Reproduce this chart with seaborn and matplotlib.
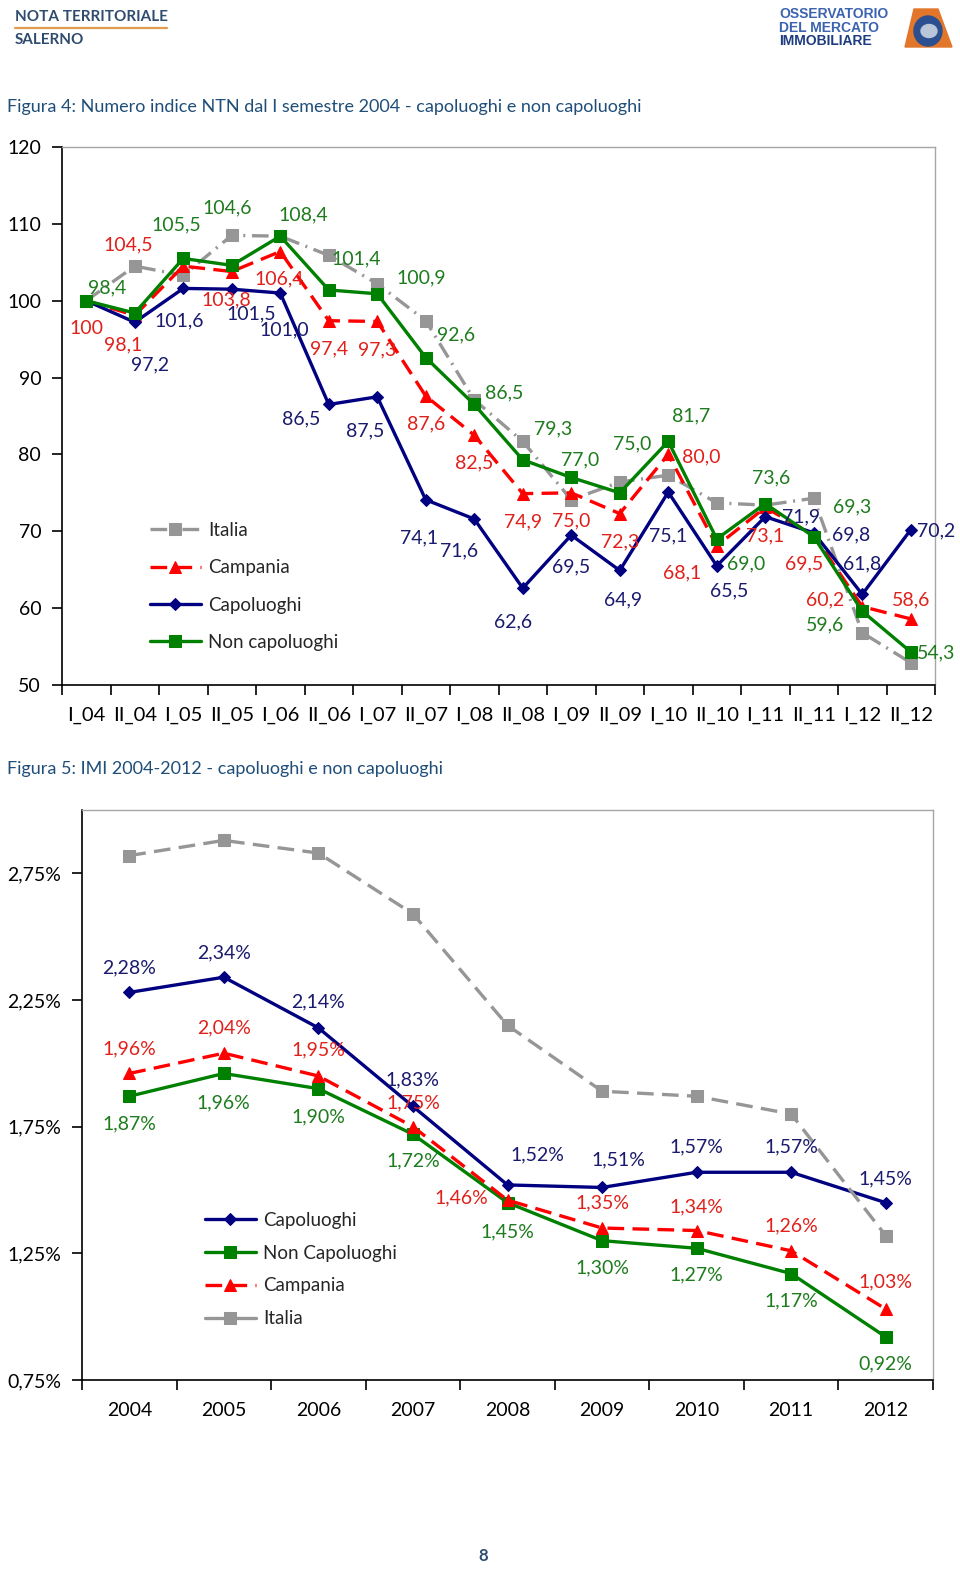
import matplotlib
matplotlib.use("Agg")
import matplotlib.pyplot as plt
import seaborn as sns
import pandas as pd
from matplotlib.lines import Line2D
from matplotlib.patches import Polygon, Ellipse

# ---------------- data ----------------
semesters = ["I_04", "II_04", "I_05", "II_05", "I_06", "II_06", "I_07", "II_07", "I_08",
             "II_08", "I_09", "II_09", "I_10", "II_10", "I_11", "II_11", "I_12", "II_12"]
ntn_italia = [100, 104.5, 103.3, 108.5, 108.4, 105.9, 102.2, 97.4, 87.1,
              81.7, 74.1, 76.4, 77.3, 73.7, 73.4, 74.3, 56.8, 52.9]
ntn_campania = [100, 98.1, 104.5, 103.8, 106.4, 97.4, 97.3, 87.6, 82.5,
                74.9, 75.0, 72.3, 80.0, 68.1, 73.1, 69.5, 60.2, 58.6]
ntn_capoluoghi = [100, 97.2, 101.6, 101.5, 101.0, 86.5, 87.5, 74.1, 71.6,
                  62.6, 69.5, 64.9, 75.1, 65.5, 71.9, 69.8, 61.8, 70.2]
ntn_non_capoluoghi = [100, 98.4, 105.5, 104.6, 108.4, 101.4, 100.9, 92.6, 86.5,
                      79.3, 77.0, 75.0, 81.7, 69.0, 73.6, 69.3, 59.6, 54.3]

years = ["2004", "2005", "2006", "2007", "2008", "2009", "2010", "2011", "2012"]
imi_capoluoghi = [2.28, 2.34, 2.14, 1.83, 1.52, 1.51, 1.57, 1.57, 1.45]
imi_non_capoluoghi = [1.87, 1.96, 1.90, 1.72, 1.45, 1.30, 1.27, 1.17, 0.92]
imi_campania = [1.96, 2.04, 1.95, 1.75, 1.46, 1.35, 1.34, 1.26, 1.03]
imi_italia = [2.82, 2.88, 2.83, 2.59, 2.15, 1.89, 1.87, 1.80, 1.32]

# ---------------- styles / label offsets (pixels) ----------------
NAVY = "#000080"
RED = "#FF0000"
GREEN = "#008000"
GREY = "#969696"
TXT_NAVY = "#1A1A6E"
TXT_RED = "#E0211B"
TXT_GREEN = "#1E7B1E"
TITLE_C = "#1F4E79"

off_green1 = [None, (-28, 25), (-7, 34), (-5, 57), (23, 21), (27, 31), (44, 16), (30, 23), (30, 12),
              (30, 31), (9, 18), (12, 49), (23, 25), (29, -25), (6, 26), (38, 30), (-37, -14), (25, -1)]
off_red1 = [(0, -28), (-12, -30), (-55, 21), (-5, -28), (-1, -27), (0, -28), (0, -28), (0, -28), (0, -28),
            (0, -28), (0, -28), (0, -28), (33, -2), (-35, -27), (0, -28), (-10, -29), (-37, 7), (0, 19)]
off_navy1 = [None, (15, -43), (-4, -32), (20, -25), (4, -37), (-28, -14), (-12, -34), (-7, -38), (-15, -32),
             (-10, -34), (0, -32), (3, -29), (0, -44), (12, -25), (36, 0), (37, -2), (0, 30), (25, -1)]

off_navy2 = [(0, 25), (0, 24), (0, 26), (0, 27), (30, 30), (16, 28), (0, 25), (0, 25), (0, 24)]
off_red2 = [(0, 25), (0, 25), (0, 26), (0, 24), (-46, 2), (0, 25), (0, 24), (0, 25), (0, 27)]
off_green2 = [(0, -28), (0, -29), (0, -28), (0, -27), (0, -29), (0, -27), (0, -27), (0, -27), (0, -27)]

sns.set_theme(style="white")
plt.rcParams["font.family"] = ["Lato", "DejaVu Sans"]

W, H = 960, 1569
fig = plt.figure(figsize=(W / 100, H / 100), dpi=100)


def fx(px):
    return px / W


def fy(py):
    return 1 - py / H


def fmt1(v):
    if v == 100:
        return "100"
    return f"{v:.1f}".replace(".", ",")


def fmt_pct(v):
    return f"{v:.2f}%".replace(".", ",")


def style_axes(ax, n):
    for s in ["left", "bottom"]:
        ax.spines[s].set_color("black")
        ax.spines[s].set_linewidth(1.2)
    for s in ["top", "right"]:
        ax.spines[s].set_color("#A6A6A6")
        ax.spines[s].set_linewidth(1.0)
    ax.set_xlim(-0.5, n - 0.5)
    ax.set_xticks(range(n))
    ax.set_xticks([i - 0.5 for i in range(n + 1)], minor=True)
    ax.tick_params(axis="x", which="major", length=0, pad=16, labelsize=14.5, colors="black")
    ax.tick_params(axis="x", which="minor", length=7, width=1.2, direction="out", color="black", bottom=True)
    ax.tick_params(axis="y", which="major", length=7, width=1.2, direction="out", color="black",
                   left=True, labelsize=14, pad=8, labelcolor="black")
    ax.grid(False)
    ax.set_xlabel("")
    ax.set_ylabel("")


# ---------------- header ----------------
fig.text(fx(15), fy(17), "NOTA TERRITORIALE", fontsize=11, fontweight="bold", color="#2F4B6E",
         va="center", ha="left", family=["Lato", "DejaVu Sans"])
fig.add_artist(Line2D([fx(15), fx(167)], [fy(28), fy(28)], color="#E39B4F", lw=1.6))
fig.text(fx(15), fy(40), "SALERNO", fontsize=11, fontweight="bold", color="#2F4B6E",
         va="center", ha="left", family=["Lato", "DejaVu Sans"])
for yy, t, wgt, c in [(14, "OSSERVATORIO", "bold", "#3B63B0"), (28, "DEL MERCATO", "bold", "#3B63B0"),
                      (41, "IMMOBILIARE", "bold", "#1E3C80")]:
    fig.text(fx(779), fy(yy), t, fontsize=10, fontweight=wgt, color=c, va="center", ha="left",
             family=["Liberation Sans Narrow", "Liberation Sans", "DejaVu Sans"])
fig.add_artist(Polygon([(fx(914), fy(9)), (fx(938), fy(9)), (fx(952), fy(47)), (fx(905), fy(47))],
                       closed=True, color="#E2762A", transform=fig.transFigure))
fig.add_artist(Ellipse((fx(928), fy(31)), 28 / W, 30 / H, color="#2C4F8F", transform=fig.transFigure))
fig.add_artist(Ellipse((fx(929), fy(31)), 16 / W, 13 / H, color="#B9C6DA", transform=fig.transFigure))

# ---------------- figure 4 ----------------
fig.text(fx(7), fy(107), "Figura 4: Numero indice NTN dal I semestre 2004 - capoluoghi e non capoluoghi",
         fontsize=13, color=TITLE_C, va="center", ha="left")

ax1 = fig.add_axes([fx(62), fy(685), (935 - 62) / W, (685 - 147) / H])
series1 = [
    ("Italia", ntn_italia, GREY, "s", 8, (0, (5, 2, 0.6, 2)), None, None),
    ("Campania", ntn_campania, RED, "^", 9, (0, (5, 2.5)), off_red1, TXT_RED),
    ("Capoluoghi", ntn_capoluoghi, NAVY, "D", 6.5, "-", off_navy1, TXT_NAVY),
    ("Non capoluoghi", ntn_non_capoluoghi, GREEN, "s", 8, "-", off_green1, TXT_GREEN),
]
for name, vals, col, mk, ms, ls, offs, tc in series1:
    df = pd.DataFrame({"sem": semesters, "v": vals})
    sns.lineplot(data=df, x="sem", y="v", ax=ax1, color=col, marker=mk, markersize=ms,
                 markeredgecolor=col, linestyle=ls, linewidth=2.4, sort=False, label=name)
    if offs is not None:
        for i, (v, o) in enumerate(zip(vals, offs)):
            if o is None:
                continue
            ax1.annotate(fmt1(v), (i, v), xytext=o, textcoords="offset pixels", ha="center",
                         va="center", fontsize=14, color=tc)
ax1.set_ylim(50, 120)
ax1.set_yticks(range(50, 121, 10))
style_axes(ax1, len(semesters))
ax1.legend(loc="upper left", bbox_to_anchor=((150 - 62) / 873, (685 - 522) / 538), frameon=False,
           fontsize=13.5, handlelength=2.7, handletextpad=0.4, labelspacing=1.08, borderaxespad=0,
           borderpad=0)

# ---------------- figure 5 ----------------
fig.text(fx(7), fy(769), "Figura 5: IMI 2004-2012 - capoluoghi e non capoluoghi",
         fontsize=13, color=TITLE_C, va="center", ha="left")

ax2 = fig.add_axes([fx(82), fy(1380), (933 - 82) / W, (1380 - 810) / H])
series2 = [
    ("Capoluoghi", imi_capoluoghi, NAVY, "D", 6.5, "-", off_navy2, TXT_NAVY),
    ("Non Capoluoghi", imi_non_capoluoghi, GREEN, "s", 8, "-", off_green2, TXT_GREEN),
    ("Campania", imi_campania, RED, "^", 9, (0, (5, 2.5)), off_red2, TXT_RED),
    ("Italia", imi_italia, GREY, "s", 8, (0, (5, 2.5)), None, None),
]
for name, vals, col, mk, ms, ls, offs, tc in series2:
    df = pd.DataFrame({"year": years, "v": vals})
    sns.lineplot(data=df, x="year", y="v", ax=ax2, color=col, marker=mk, markersize=ms,
                 markeredgecolor=col, linestyle=ls, linewidth=2.4, sort=False, label=name)
    if offs is not None:
        for i, (v, o) in enumerate(zip(vals, offs)):
            ax2.annotate(fmt_pct(v), (i, v), xytext=o, textcoords="offset pixels", ha="center",
                         va="center", fontsize=14, color=tc)
ax2.set_ylim(0.75, 3.0)
ax2.set_yticks([0.75, 1.25, 1.75, 2.25, 2.75])
ax2.set_yticklabels([fmt_pct(t) for t in [0.75, 1.25, 1.75, 2.25, 2.75]])
style_axes(ax2, len(years))
ax2.tick_params(axis="x", which="major", labelsize=14)
leg2 = ax2.legend(loc="upper left", bbox_to_anchor=((205 - 82) / 851, (1380 - 1212) / 570), frameon=False,
                  fontsize=13.5, handlelength=2.7, handletextpad=0.4, labelspacing=0.84, borderaxespad=0,
                  borderpad=0)
leg2.get_lines()[-1].set_linestyle("-")

fig.text(fx(483), fy(1556), "8", fontsize=12, fontweight="bold", color="#2F4B6E", ha="center", va="center")

fig.savefig("out.png", dpi=100)
